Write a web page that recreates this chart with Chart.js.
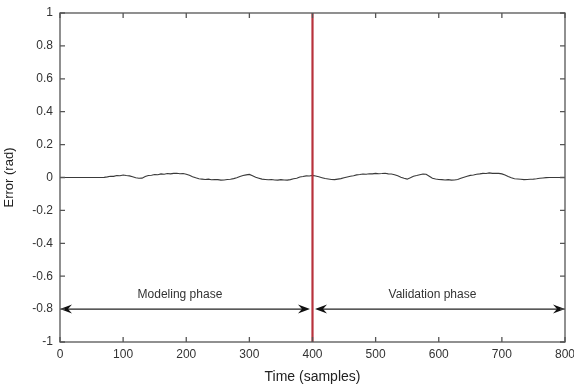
<!DOCTYPE html>
<html>
<head>
<meta charset="utf-8">
<script src="https://cdn.jsdelivr.net/npm/chart.js@4/dist/chart.umd.min.js"></script>
<style>
html,body{margin:0;padding:0;background:#fff;}
#wrap{width:574px;height:388px;position:relative;}
</style>
</head>
<body>
<div id="wrap"><canvas id="errChart"></canvas></div>
<script>

// samples (every 5) and the error
const samples = [
0,5,10,15,20,25,30,35,40,45,50,55,60,65,70,75,80,85,90,95,
100,105,110,115,120,125,130,135,140,145,150,155,160,165,170,175,180,185,190,195,
200,205,210,215,220,225,230,235,240,245,250,255,260,265,270,275,280,285,290,295,
300,305,310,315,320,325,330,335,340,345,350,355,360,365,370,375,380,385,390,395,
400,405,410,415,420,425,430,435,440,445,450,455,460,465,470,475,480,485,490,495,
500,505,510,515,520,525,530,535,540,545,550,555,560,565,570,575,580,585,590,595,
600,605,610,615,620,625,630,635,640,645,650,655,660,665,670,675,680,685,690,695,
700,705,710,715,720,725,730,735,740,745,750,755,760,765,770,775,780,785,790,795,800
];

const errorRad = [
0,0,0,0,0,0,0,0,0,0,0,0,0,0,0.001,0.004,0.008,0.007,0.012,0.011,
0.015,0.012,0.010,0.004,-0.002,-0.005,-0.004,0.006,0.012,0.014,0.018,0.017,0.022,0.020,0.024,0.022,0.025,0.026,0.023,0.024,
0.020,0.014,0.005,-0.002,-0.008,-0.010,-0.012,-0.010,-0.014,-0.012,-0.013,-0.016,-0.015,-0.012,-0.011,-0.007,-0.002,0.006,0.012,0.016,
0.019,0.011,0.002,-0.004,-0.010,-0.012,-0.014,-0.012,-0.015,-0.016,-0.013,-0.015,-0.016,-0.013,-0.008,-0.005,0.003,0.006,0.010,0.009,
0.013,0.009,0.004,-0.001,-0.006,-0.009,-0.012,-0.013,-0.010,-0.007,-0.002,0.003,0.008,0.011,0.016,0.018,0.021,0.020,0.023,0.022,
0.025,0.023,0.024,0.026,0.022,0.021,0.017,0.010,0.002,-0.005,-0.010,-0.002,0.008,0.012,0.017,0.021,0.020,0.008,-0.004,-0.009,
-0.012,-0.013,-0.015,-0.013,-0.016,-0.015,-0.012,-0.005,0.002,0.008,0.013,0.015,0.020,0.022,0.025,0.024,0.028,0.025,0.026,0.025,
0.022,0.015,0.006,-0.002,-0.008,-0.009,-0.011,-0.013,-0.012,-0.011,-0.010,-0.008,-0.005,-0.003,-0.001,0,0,0,0,0,0
];

const xTicks = [0,100,200,300,400,500,600,700,800];
const yTicks = [-1,-0.8,-0.6,-0.4,-0.2,0,0.2,0.4,0.6,0.8,1];

const splitAt = 400;
const arrowLevel = -0.8;
const phases = [
{label:"Modeling phase", from:0, to:396, textX:190, textY:-0.71},
{label:"Validation phase", from:404, to:800, textX:590, textY:-0.71}
];

const points = samples.map((s,i)=>({x:s,y:errorRad[i]}));

function arrowHead(ctx, x, y, dir){
// matlab style head with a notched back
const len = 12, half = 4.5, notch = 4;
ctx.beginPath();
ctx.moveTo(x, y);
ctx.lineTo(x - dir*len, y - half);
ctx.lineTo(x - dir*(len - notch), y);
ctx.lineTo(x - dir*len, y + half);
ctx.closePath();
ctx.fill();
}

const framePlugin = {
id:"frame",
afterDatasetsDraw(chart){
const ctx = chart.ctx;
const a = chart.chartArea;
const xs = chart.scales.x;
const ys = chart.scales.y;

ctx.save();

// phase arrows
ctx.strokeStyle = "#222";
ctx.lineWidth = 1.2;
const ay = ys.getPixelForValue(arrowLevel);
phases.forEach(p=>{
const x1 = xs.getPixelForValue(p.from);
const x2 = xs.getPixelForValue(p.to);
ctx.beginPath();
ctx.moveTo(x1 + 4, ay);
ctx.lineTo(x2 - 4, ay);
ctx.stroke();
ctx.fillStyle = "#111";
arrowHead(ctx, x1, ay, -1);
arrowHead(ctx, x2, ay, 1);
ctx.font = "12px 'Liberation Sans', Arial, sans-serif";
ctx.fillStyle = "#333";
ctx.textAlign = "center";
ctx.textBaseline = "middle";
ctx.fillText(p.label, xs.getPixelForValue(p.textX), ys.getPixelForValue(p.textY));
});

// split line
const sx = xs.getPixelForValue(splitAt);
ctx.strokeStyle = "#b8323c";
ctx.lineWidth = 2.2;
ctx.beginPath();
ctx.moveTo(sx, a.top);
ctx.lineTo(sx, a.bottom);
ctx.stroke();

// box and inward ticks
ctx.strokeStyle = "#555";
ctx.lineWidth = 1.3;
ctx.strokeRect(a.left, a.top, a.right - a.left, a.bottom - a.top);
ctx.beginPath();
xTicks.forEach(v=>{
const px = xs.getPixelForValue(v);
ctx.moveTo(px, a.bottom); ctx.lineTo(px, a.bottom - 5);
ctx.moveTo(px, a.top); ctx.lineTo(px, a.top + 5);
});
yTicks.forEach(v=>{
const py = ys.getPixelForValue(v);
ctx.moveTo(a.left, py); ctx.lineTo(a.left + 5, py);
ctx.moveTo(a.right, py); ctx.lineTo(a.right - 5, py);
});
ctx.stroke();

ctx.restore();
}
};

const tickFont = {family:"'Liberation Sans', Arial, sans-serif", size:12};
const titleFont = {family:"'Liberation Sans', Arial, sans-serif", size:14};

new Chart(document.getElementById("errChart"),{
type:"line",
data:{
datasets:[{
data:points,
borderColor:"#3a3a3a",
borderWidth:1.1,
pointRadius:0,
tension:0,
fill:false
}]
},
options:{
responsive:true,
maintainAspectRatio:false,
animation:false,
layout:{padding:{top:13,right:9,left:0,bottom:0}},
plugins:{
legend:{display:false},
tooltip:{enabled:false}
},
scales:{
x:{
type:"linear",
min:0,
max:800,
afterBuildTicks:s=>{ s.ticks = xTicks.map(v=>({value:v})); },
afterFit:s=>{ s.height = 46; s.paddingLeft = 0; s.paddingRight = 0; },
grid:{display:false, drawTicks:false},
border:{display:false},
ticks:{font:tickFont, color:"#333", padding:5, maxRotation:0, autoSkip:false},
title:{display:true, text:"Time (samples)", font:titleFont, color:"#222", padding:{top:0,bottom:2}}
},
y:{
type:"linear",
min:-1,
max:1,
afterBuildTicks:s=>{ s.ticks = yTicks.map(v=>({value:v})); },
afterFit:s=>{ s.width = 60; s.paddingTop = 0; s.paddingBottom = 0; },
grid:{display:false, drawTicks:false},
border:{display:false},
ticks:{font:tickFont, color:"#333", padding:7, autoSkip:false,
callback:v=>String(Math.round(v*10)/10)},
title:{display:true, text:"Error (rad)", font:{family:"'Liberation Sans', Arial, sans-serif", size:13}, color:"#222", padding:{top:2,bottom:0}}
}
}
},
plugins:[framePlugin]
});

</script>
</body>
</html>
